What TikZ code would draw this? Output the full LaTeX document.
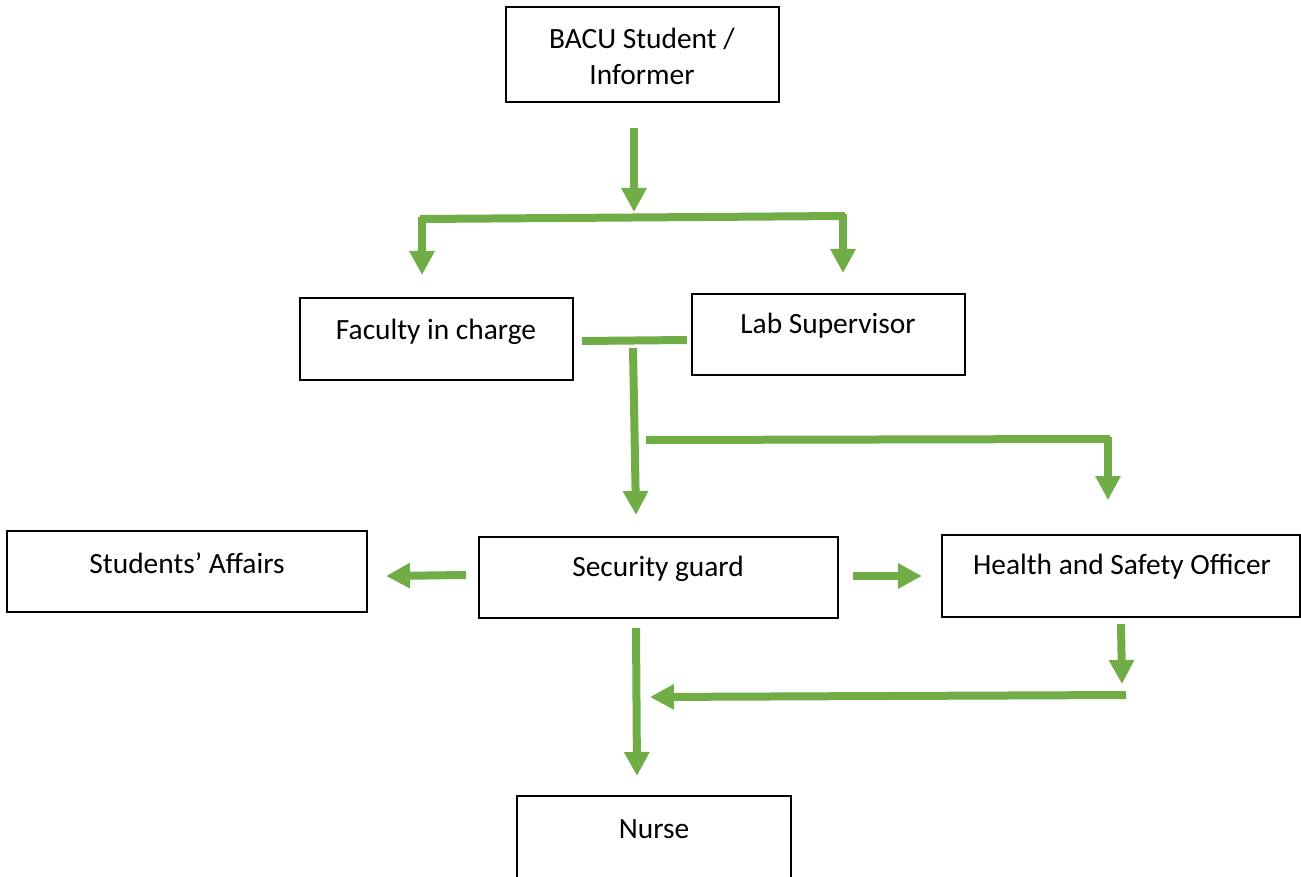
\documentclass[tikz,border=0pt]{standalone}
\usepackage{fontspec}
\setmainfont{Carlito}
\usetikzlibrary{arrows.meta}
\definecolor{grn}{HTML}{70AD47}
\tikzset{
  box/.style={draw=black, line width=1pt, rectangle, inner sep=0pt},
  lbl/.style={font=\fontsize{14.7}{18}\selectfont, align=center, inner sep=0pt},
  gline/.style={draw=grn, line width=4pt},
  garrow/.style={draw=grn, line width=4pt, -{Triangle[width=12pt,length=12pt]}},
}
\begin{document}
\begin{tikzpicture}[x=0.5pt,y=-0.5pt]
\useasboundingbox (0,0) rectangle (1301,877);
\begin{scope}
\clip (0,0) rectangle (1301,877);
% boxes
\draw[box] (506,7) rectangle (779,102);
\node[lbl] (bacu) at (642,56) {BACU Student /\\Informer};
\draw[box] (300,298) rectangle (573,380);
\node[lbl] (fac) at (436,332) {Faculty in charge};
\draw[box] (692,294) rectangle (965,375);
\node[lbl] (lab) at (828,326) {Lab Supervisor};
\draw[box] (7,531) rectangle (367,612);
\node[lbl] (sa) at (187,563) {Students’ Affairs};
\draw[box] (479,537) rectangle (838,618);
\node[lbl] (sg) at (658,569) {Security guard};
\draw[box] (942,535) rectangle (1300,617);
\node[lbl] (hs) at (1122,567) {Health and Safety Officer};
\draw[box] (517,796) rectangle (791,890);
\node[lbl] (nu) at (654,829) {Nurse};
\end{scope}
% connector points
\coordinate (a1s) at (634,128); \coordinate (a1e) at (634,212);
\coordinate (bl) at (422,219); \coordinate (br) at (843,216);
\coordinate (blt) at (422,275); \coordinate (brt) at (843,273);
\coordinate (m1) at (582,341); \coordinate (m2) at (687,340);
\coordinate (v1s) at (633,348); \coordinate (v1e) at (636,515);
\coordinate (h1) at (646,440); \coordinate (h2) at (1108,439); \coordinate (h2e) at (1108,500);
\coordinate (ls) at (466,575); \coordinate (le) at (386,576);
\coordinate (rs) at (853,576); \coordinate (re) at (922,576);
\coordinate (ds) at (636,628); \coordinate (de) at (637,776);
\coordinate (hds) at (1121,624); \coordinate (hde) at (1122,684);
\coordinate (hhs) at (1126,695); \coordinate (hhe) at (650,697);
% connectors
\draw[garrow] (a1s) -- (a1e);
\draw[gline] ([xshift=-1pt]bl) -- ([xshift=1pt]br);
\draw[garrow] ([yshift=1pt]bl) -- (blt);
\draw[garrow] ([yshift=1pt]br) -- (brt);
\draw[gline] (m1) -- (m2);
\draw[garrow] (v1s) -- (v1e);
\draw[gline] (h1) -- ([xshift=1pt]h2);
\draw[garrow] ([yshift=1pt]h2) -- (h2e);
\draw[garrow] (ls) -- (le);
\draw[garrow] (rs) -- (re);
\draw[garrow] (ds) -- (de);
\draw[garrow] (hds) -- (hde);
\draw[garrow] (hhs) -- (hhe);
\end{tikzpicture}
\end{document}
